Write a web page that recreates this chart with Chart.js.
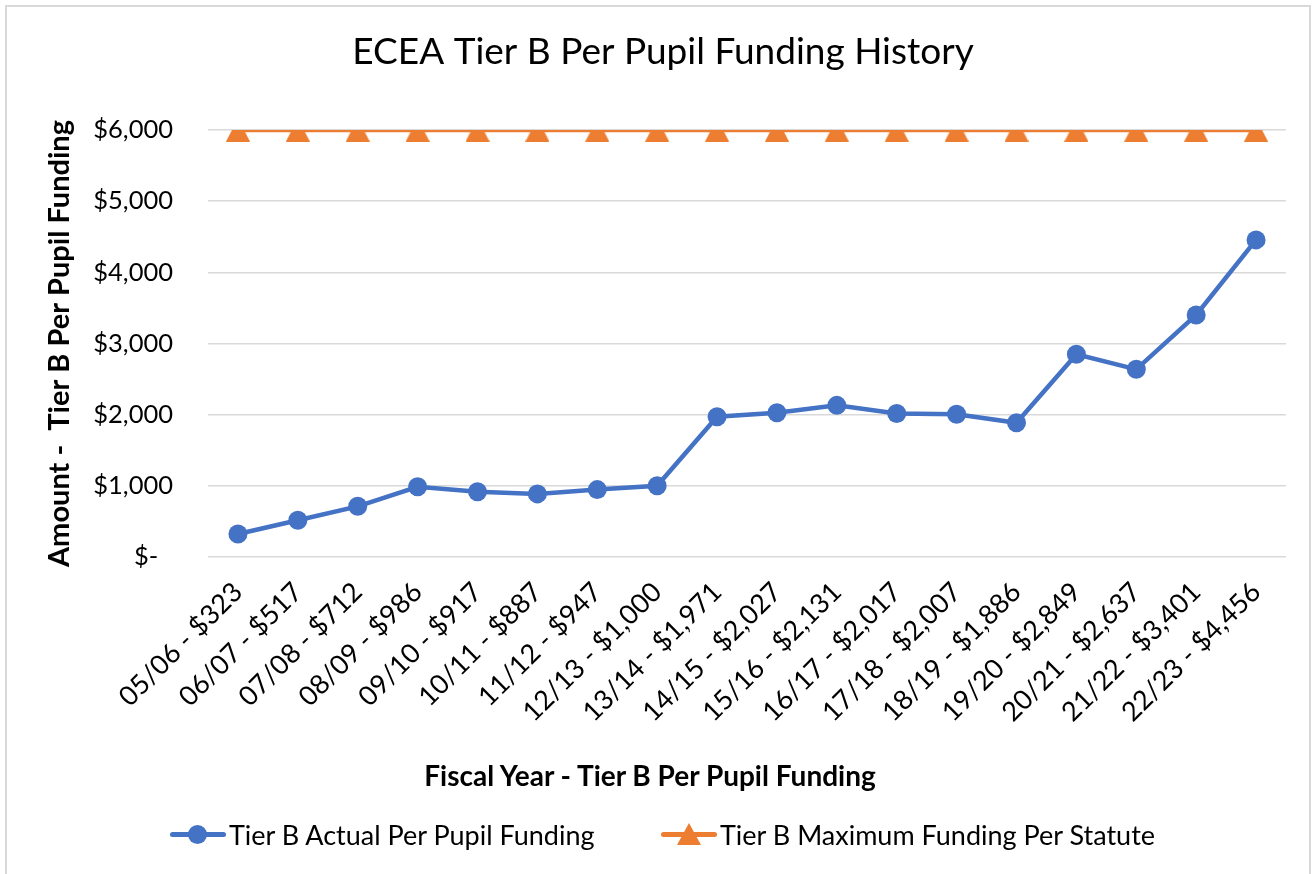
<!DOCTYPE html>
<html>
<head>
<meta charset="utf-8">
<script src="https://cdn.jsdelivr.net/npm/chart.js@4.4.0/dist/chart.umd.min.js"></script>
<style>
  html, body { margin: 0; padding: 0; background: #fff; }
  body { width: 1315px; height: 874px; position: relative; overflow: hidden; font-family: Lato, sans-serif; }
  #frame { position: absolute; left: 5px; top: 5px; width: 1306px; height: 900px; border: 2px solid #d9d9d9; box-sizing: border-box; pointer-events: none; }
  #chart { position: absolute; left: 0; top: 0; }
  #xtitle { position: absolute; left: 0; width: 1300px; top: 757px; text-align: center; font-size: 28px; font-weight: bold; color: #000; line-height: 36px; }
  .legend { position: absolute; top: 819px; height: 30px; display: flex; align-items: center; font-size: 27px; color: #000; }
  .mk { position: relative; width: 56px; height: 30px; margin-right: 3px; }
  .mk .ln { position: absolute; left: 0; right: 0; top: 13px; height: 5px; border-radius: 3px; }
  .mk .dot { position: absolute; left: 18px; top: 6px; width: 19px; height: 19px; border-radius: 50%; }
  .mk .tri { position: absolute; left: 16px; top: 4px; width: 0; height: 0; border-left: 12px solid transparent; border-right: 12px solid transparent; border-bottom: 22px solid #ED7D31; }
</style>
</head>
<body>
<canvas id="chart" width="1315" height="874"></canvas>
<div id="frame"></div>
<div id="xtitle"></div>
<div class="legend" style="left:170px"><div class="mk"><div class="ln" style="background:#4472C4"></div><div class="dot" style="background:#4472C4"></div></div><span id="lg0"></span></div>
<div class="legend" style="left:661px"><div class="mk"><div class="ln" style="background:#ED7D31"></div><div class="tri"></div></div><span id="lg1"></span></div>
<script>
// data
const fiscalYears = ["05/06", "06/07", "07/08", "08/09", "09/10", "10/11", "11/12", "12/13", "13/14",
  "14/15", "15/16", "16/17", "17/18", "18/19", "19/20", "20/21", "21/22", "22/23"];
const actualFunding = [323, 517, 712, 986, 917, 887, 947, 1000, 1971, 2027, 2131, 2017, 2007, 1886, 2849, 2637, 3401, 4456];
const maxFunding = [6000, 6000, 6000, 6000, 6000, 6000, 6000, 6000, 6000, 6000, 6000, 6000, 6000, 6000, 6000, 6000, 6000, 6000];
const seriesNames = ["Tier B Actual Per Pupil Funding", "Tier B Maximum Funding Per Statute"];
const yTicks = [0, 1000, 2000, 3000, 4000, 5000, 6000];

const money = (v) => "$" + v.toLocaleString("en-US");
const categoryLabels = fiscalYears.map((y, i) => y + " - " + money(actualFunding[i]));

document.getElementById("lg0").innerText = seriesNames[0];
document.getElementById("lg1").innerText = seriesNames[1];
document.getElementById("xtitle").innerText = "Fiscal Year - Tier B Per Pupil Funding";

// triangle marker centred on its box (like Excel), used as pointStyle
const triMarker = document.createElement("canvas");
triMarker.width = 24;
triMarker.height = 23;
(function () {
  const c = triMarker.getContext("2d");
  c.fillStyle = "#ED7D31";
  c.beginPath();
  c.moveTo(12, 0);
  c.lineTo(24, 23);
  c.lineTo(0, 23);
  c.closePath();
  c.fill();
})();

Chart.defaults.font.family = "Lato, sans-serif";
Chart.defaults.color = "#000";

new Chart(document.getElementById("chart").getContext("2d"), {
  type: "line",
  data: {
    labels: categoryLabels,
    datasets: [
      {
        label: seriesNames[0],
        data: actualFunding,
        borderColor: "#4472C4",
        backgroundColor: "#4472C4",
        borderWidth: 4.5,
        pointStyle: "circle",
        pointRadius: 9.5,
        pointBorderWidth: 0,
        tension: 0,
      },
      {
        label: seriesNames[1],
        data: maxFunding,
        borderColor: "#ED7D31",
        backgroundColor: "#ED7D31",
        borderWidth: 4.5,
        pointStyle: triMarker,
        pointRadius: 12,
        pointBorderWidth: 0,
        tension: 0,
      },
    ],
  },
  options: {
    responsive: false,
    animation: false,
    layout: { padding: { left: 40, top: 10, right: 29, bottom: 84 } },
    plugins: {
      legend: { display: false },
      tooltip: { enabled: false },
      title: {
        display: true,
        text: "ECEA Tier B Per Pupil Funding History",
        font: { size: 37, weight: "normal" },
        color: "#000",
        padding: { top: 20, bottom: 55.6 },
      },
    },
    scales: {
      x: {
        offset: true,
        grid: { display: false },
        border: { display: false },
        ticks: { font: { size: 27 }, maxRotation: 45, minRotation: 45, padding: 11, autoSkip: false },
        afterFit: (s) => { s.height = 233; },
      },
      y: {
        min: 0,
        max: 6000,
        afterBuildTicks: (s) => { s.ticks = yTicks.map((v) => ({ value: v })); },
        grid: { color: "#d9d9d9", lineWidth: 1.5, drawTicks: false },
        border: { display: false },
        ticks: {
          font: { size: 25.5 },
          padding: 35,
          callback: (v) => (v === 0 ? "$-\u2007" : money(v)),
        },
        title: {
          display: true,
          text: "Amount -  Tier B Per Pupil Funding",
          font: { size: 29, weight: "bold" },
          padding: { top: 2, bottom: 0 },
        },
        afterFit: (s) => { s.width = 168; },
      },
    },
  },
});
</script>
</body>
</html>
